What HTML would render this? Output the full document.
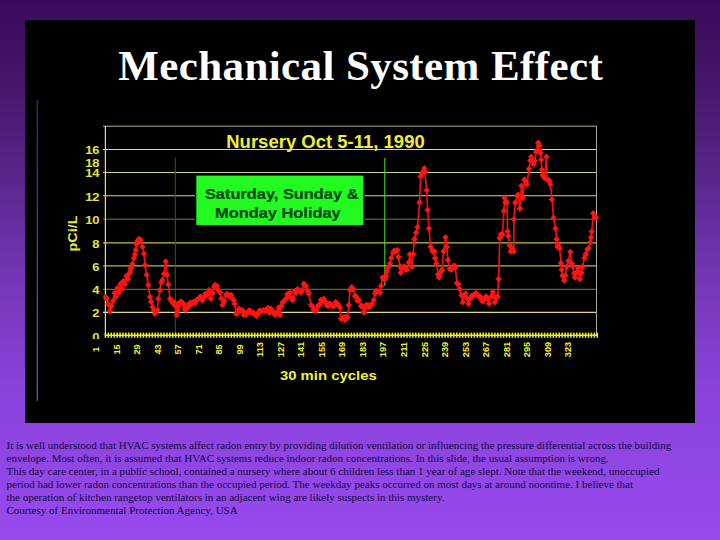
<!DOCTYPE html>
<html><head><meta charset="utf-8"><title>Mechanical System Effect</title>
<style>
html,body{margin:0;padding:0}
body{width:720px;height:540px;overflow:hidden;position:relative;background:linear-gradient(to bottom,rgb(58,10,90) 0px,rgb(72,24,110) 94px,rgb(92,40,144) 189px,rgb(120,56,186) 290px,rgb(138,66,218) 389px,rgb(150,74,236) 529px,rgb(151,75,237) 540px);font-family:"Liberation Serif",serif}
#slide{position:absolute;left:25px;top:20px;width:670px;height:402.5px;background:#000}
h1{position:absolute;left:0.7px;top:40.5px;width:720px;margin:0;text-align:center;font:bold 43px/50px "Liberation Serif",serif;color:#fff;letter-spacing:0.4px;white-space:nowrap}
#notes{position:absolute;left:6.5px;top:439.3px;width:710px;font:11.03px/13px "Liberation Serif",serif;color:#14063e;white-space:nowrap}
#notes div{height:13px}
svg{position:absolute;left:0;top:0}
svg text{font-family:"Liberation Sans",sans-serif}
</style></head><body>
<div id="slide"></div>
<svg width="720" height="540" viewBox="0 0 720 540">
<defs><linearGradient id="vg" x1="0" y1="100" x2="0" y2="401" gradientUnits="userSpaceOnUse"><stop offset="0" stop-color="#4a2a8a"/><stop offset="1" stop-color="#8462c4"/></linearGradient></defs><rect x="36.7" y="100" width="1.1" height="300.8" fill="url(#vg)"/>
<line x1="103" y1="126.2" x2="596.8" y2="126.2" stroke="#b0b0a0" stroke-width="1"/><line x1="103" y1="149.5" x2="596.8" y2="149.5" stroke="#d8d890" stroke-width="1.1"/><line x1="103" y1="172.5" x2="596.8" y2="172.5" stroke="#d0d080" stroke-width="1.2"/><line x1="103" y1="195.8" x2="596.8" y2="195.8" stroke="#d8d880" stroke-width="1.1"/><line x1="103" y1="219.2" x2="596.8" y2="219.2" stroke="#84844e" stroke-width="0.9"/><line x1="103" y1="242.8" x2="596.8" y2="242.8" stroke="#c0c040" stroke-width="1.25"/><line x1="103" y1="265.8" x2="596.8" y2="265.8" stroke="#b8b840" stroke-width="1.2"/><line x1="103" y1="289.3" x2="596.8" y2="289.3" stroke="#8c8c48" stroke-width="0.9"/><line x1="103" y1="312.3" x2="596.8" y2="312.3" stroke="#dcdc90" stroke-width="1.3"/>
<line x1="105.4" y1="126" x2="105.4" y2="336" stroke="#e0e080" stroke-width="1.2"/>
<line x1="596.5" y1="126" x2="596.5" y2="336" stroke="#a8a8a0" stroke-width="1"/>
<line x1="175.3" y1="157.6" x2="175.3" y2="335" stroke="#2a602a" stroke-width="1"/>
<line x1="384.8" y1="158" x2="384.8" y2="286" stroke="#38dc38" stroke-width="1.1"/>
<line x1="105" y1="335.3" x2="597" y2="335.3" stroke="#e6e62a" stroke-width="1.6"/>
<line x1="105.40" y1="332.6" x2="105.40" y2="337.8" stroke="#f0f030" stroke-width="1.5"/><line x1="108.33" y1="332.6" x2="108.33" y2="337.8" stroke="#f0f030" stroke-width="1.5"/><line x1="111.26" y1="332.6" x2="111.26" y2="337.8" stroke="#f0f030" stroke-width="1.5"/><line x1="114.18" y1="332.6" x2="114.18" y2="337.8" stroke="#f0f030" stroke-width="1.5"/><line x1="117.11" y1="332.6" x2="117.11" y2="337.8" stroke="#f0f030" stroke-width="1.5"/><line x1="120.04" y1="332.6" x2="120.04" y2="337.8" stroke="#f0f030" stroke-width="1.5"/><line x1="122.97" y1="332.6" x2="122.97" y2="337.8" stroke="#f0f030" stroke-width="1.5"/><line x1="125.90" y1="332.6" x2="125.90" y2="337.8" stroke="#f0f030" stroke-width="1.5"/><line x1="128.82" y1="332.6" x2="128.82" y2="337.8" stroke="#f0f030" stroke-width="1.5"/><line x1="131.75" y1="332.6" x2="131.75" y2="337.8" stroke="#f0f030" stroke-width="1.5"/><line x1="134.68" y1="332.6" x2="134.68" y2="337.8" stroke="#f0f030" stroke-width="1.5"/><line x1="137.61" y1="332.6" x2="137.61" y2="337.8" stroke="#f0f030" stroke-width="1.5"/><line x1="140.54" y1="332.6" x2="140.54" y2="337.8" stroke="#f0f030" stroke-width="1.5"/><line x1="143.46" y1="332.6" x2="143.46" y2="337.8" stroke="#f0f030" stroke-width="1.5"/><line x1="146.39" y1="332.6" x2="146.39" y2="337.8" stroke="#f0f030" stroke-width="1.5"/><line x1="149.32" y1="332.6" x2="149.32" y2="337.8" stroke="#f0f030" stroke-width="1.5"/><line x1="152.25" y1="332.6" x2="152.25" y2="337.8" stroke="#f0f030" stroke-width="1.5"/><line x1="155.18" y1="332.6" x2="155.18" y2="337.8" stroke="#f0f030" stroke-width="1.5"/><line x1="158.10" y1="332.6" x2="158.10" y2="337.8" stroke="#f0f030" stroke-width="1.5"/><line x1="161.03" y1="332.6" x2="161.03" y2="337.8" stroke="#f0f030" stroke-width="1.5"/><line x1="163.96" y1="332.6" x2="163.96" y2="337.8" stroke="#f0f030" stroke-width="1.5"/><line x1="166.89" y1="332.6" x2="166.89" y2="337.8" stroke="#f0f030" stroke-width="1.5"/><line x1="169.82" y1="332.6" x2="169.82" y2="337.8" stroke="#f0f030" stroke-width="1.5"/><line x1="172.74" y1="332.6" x2="172.74" y2="337.8" stroke="#f0f030" stroke-width="1.5"/><line x1="175.67" y1="332.6" x2="175.67" y2="337.8" stroke="#f0f030" stroke-width="1.5"/><line x1="178.60" y1="332.6" x2="178.60" y2="337.8" stroke="#f0f030" stroke-width="1.5"/><line x1="181.53" y1="332.6" x2="181.53" y2="337.8" stroke="#f0f030" stroke-width="1.5"/><line x1="184.46" y1="332.6" x2="184.46" y2="337.8" stroke="#f0f030" stroke-width="1.5"/><line x1="187.38" y1="332.6" x2="187.38" y2="337.8" stroke="#f0f030" stroke-width="1.5"/><line x1="190.31" y1="332.6" x2="190.31" y2="337.8" stroke="#f0f030" stroke-width="1.5"/><line x1="193.24" y1="332.6" x2="193.24" y2="337.8" stroke="#f0f030" stroke-width="1.5"/><line x1="196.17" y1="332.6" x2="196.17" y2="337.8" stroke="#f0f030" stroke-width="1.5"/><line x1="199.10" y1="332.6" x2="199.10" y2="337.8" stroke="#f0f030" stroke-width="1.5"/><line x1="202.02" y1="332.6" x2="202.02" y2="337.8" stroke="#f0f030" stroke-width="1.5"/><line x1="204.95" y1="332.6" x2="204.95" y2="337.8" stroke="#f0f030" stroke-width="1.5"/><line x1="207.88" y1="332.6" x2="207.88" y2="337.8" stroke="#f0f030" stroke-width="1.5"/><line x1="210.81" y1="332.6" x2="210.81" y2="337.8" stroke="#f0f030" stroke-width="1.5"/><line x1="213.74" y1="332.6" x2="213.74" y2="337.8" stroke="#f0f030" stroke-width="1.5"/><line x1="216.66" y1="332.6" x2="216.66" y2="337.8" stroke="#f0f030" stroke-width="1.5"/><line x1="219.59" y1="332.6" x2="219.59" y2="337.8" stroke="#f0f030" stroke-width="1.5"/><line x1="222.52" y1="332.6" x2="222.52" y2="337.8" stroke="#f0f030" stroke-width="1.5"/><line x1="225.45" y1="332.6" x2="225.45" y2="337.8" stroke="#f0f030" stroke-width="1.5"/><line x1="228.38" y1="332.6" x2="228.38" y2="337.8" stroke="#f0f030" stroke-width="1.5"/><line x1="231.30" y1="332.6" x2="231.30" y2="337.8" stroke="#f0f030" stroke-width="1.5"/><line x1="234.23" y1="332.6" x2="234.23" y2="337.8" stroke="#f0f030" stroke-width="1.5"/><line x1="237.16" y1="332.6" x2="237.16" y2="337.8" stroke="#f0f030" stroke-width="1.5"/><line x1="240.09" y1="332.6" x2="240.09" y2="337.8" stroke="#f0f030" stroke-width="1.5"/><line x1="243.02" y1="332.6" x2="243.02" y2="337.8" stroke="#f0f030" stroke-width="1.5"/><line x1="245.94" y1="332.6" x2="245.94" y2="337.8" stroke="#f0f030" stroke-width="1.5"/><line x1="248.87" y1="332.6" x2="248.87" y2="337.8" stroke="#f0f030" stroke-width="1.5"/><line x1="251.80" y1="332.6" x2="251.80" y2="337.8" stroke="#f0f030" stroke-width="1.5"/><line x1="254.73" y1="332.6" x2="254.73" y2="337.8" stroke="#f0f030" stroke-width="1.5"/><line x1="257.66" y1="332.6" x2="257.66" y2="337.8" stroke="#f0f030" stroke-width="1.5"/><line x1="260.58" y1="332.6" x2="260.58" y2="337.8" stroke="#f0f030" stroke-width="1.5"/><line x1="263.51" y1="332.6" x2="263.51" y2="337.8" stroke="#f0f030" stroke-width="1.5"/><line x1="266.44" y1="332.6" x2="266.44" y2="337.8" stroke="#f0f030" stroke-width="1.5"/><line x1="269.37" y1="332.6" x2="269.37" y2="337.8" stroke="#f0f030" stroke-width="1.5"/><line x1="272.30" y1="332.6" x2="272.30" y2="337.8" stroke="#f0f030" stroke-width="1.5"/><line x1="275.22" y1="332.6" x2="275.22" y2="337.8" stroke="#f0f030" stroke-width="1.5"/><line x1="278.15" y1="332.6" x2="278.15" y2="337.8" stroke="#f0f030" stroke-width="1.5"/><line x1="281.08" y1="332.6" x2="281.08" y2="337.8" stroke="#f0f030" stroke-width="1.5"/><line x1="284.01" y1="332.6" x2="284.01" y2="337.8" stroke="#f0f030" stroke-width="1.5"/><line x1="286.94" y1="332.6" x2="286.94" y2="337.8" stroke="#f0f030" stroke-width="1.5"/><line x1="289.86" y1="332.6" x2="289.86" y2="337.8" stroke="#f0f030" stroke-width="1.5"/><line x1="292.79" y1="332.6" x2="292.79" y2="337.8" stroke="#f0f030" stroke-width="1.5"/><line x1="295.72" y1="332.6" x2="295.72" y2="337.8" stroke="#f0f030" stroke-width="1.5"/><line x1="298.65" y1="332.6" x2="298.65" y2="337.8" stroke="#f0f030" stroke-width="1.5"/><line x1="301.58" y1="332.6" x2="301.58" y2="337.8" stroke="#f0f030" stroke-width="1.5"/><line x1="304.50" y1="332.6" x2="304.50" y2="337.8" stroke="#f0f030" stroke-width="1.5"/><line x1="307.43" y1="332.6" x2="307.43" y2="337.8" stroke="#f0f030" stroke-width="1.5"/><line x1="310.36" y1="332.6" x2="310.36" y2="337.8" stroke="#f0f030" stroke-width="1.5"/><line x1="313.29" y1="332.6" x2="313.29" y2="337.8" stroke="#f0f030" stroke-width="1.5"/><line x1="316.22" y1="332.6" x2="316.22" y2="337.8" stroke="#f0f030" stroke-width="1.5"/><line x1="319.14" y1="332.6" x2="319.14" y2="337.8" stroke="#f0f030" stroke-width="1.5"/><line x1="322.07" y1="332.6" x2="322.07" y2="337.8" stroke="#f0f030" stroke-width="1.5"/><line x1="325.00" y1="332.6" x2="325.00" y2="337.8" stroke="#f0f030" stroke-width="1.5"/><line x1="327.93" y1="332.6" x2="327.93" y2="337.8" stroke="#f0f030" stroke-width="1.5"/><line x1="330.86" y1="332.6" x2="330.86" y2="337.8" stroke="#f0f030" stroke-width="1.5"/><line x1="333.78" y1="332.6" x2="333.78" y2="337.8" stroke="#f0f030" stroke-width="1.5"/><line x1="336.71" y1="332.6" x2="336.71" y2="337.8" stroke="#f0f030" stroke-width="1.5"/><line x1="339.64" y1="332.6" x2="339.64" y2="337.8" stroke="#f0f030" stroke-width="1.5"/><line x1="342.57" y1="332.6" x2="342.57" y2="337.8" stroke="#f0f030" stroke-width="1.5"/><line x1="345.50" y1="332.6" x2="345.50" y2="337.8" stroke="#f0f030" stroke-width="1.5"/><line x1="348.42" y1="332.6" x2="348.42" y2="337.8" stroke="#f0f030" stroke-width="1.5"/><line x1="351.35" y1="332.6" x2="351.35" y2="337.8" stroke="#f0f030" stroke-width="1.5"/><line x1="354.28" y1="332.6" x2="354.28" y2="337.8" stroke="#f0f030" stroke-width="1.5"/><line x1="357.21" y1="332.6" x2="357.21" y2="337.8" stroke="#f0f030" stroke-width="1.5"/><line x1="360.14" y1="332.6" x2="360.14" y2="337.8" stroke="#f0f030" stroke-width="1.5"/><line x1="363.06" y1="332.6" x2="363.06" y2="337.8" stroke="#f0f030" stroke-width="1.5"/><line x1="365.99" y1="332.6" x2="365.99" y2="337.8" stroke="#f0f030" stroke-width="1.5"/><line x1="368.92" y1="332.6" x2="368.92" y2="337.8" stroke="#f0f030" stroke-width="1.5"/><line x1="371.85" y1="332.6" x2="371.85" y2="337.8" stroke="#f0f030" stroke-width="1.5"/><line x1="374.78" y1="332.6" x2="374.78" y2="337.8" stroke="#f0f030" stroke-width="1.5"/><line x1="377.70" y1="332.6" x2="377.70" y2="337.8" stroke="#f0f030" stroke-width="1.5"/><line x1="380.63" y1="332.6" x2="380.63" y2="337.8" stroke="#f0f030" stroke-width="1.5"/><line x1="383.56" y1="332.6" x2="383.56" y2="337.8" stroke="#f0f030" stroke-width="1.5"/><line x1="386.49" y1="332.6" x2="386.49" y2="337.8" stroke="#f0f030" stroke-width="1.5"/><line x1="389.42" y1="332.6" x2="389.42" y2="337.8" stroke="#f0f030" stroke-width="1.5"/><line x1="392.34" y1="332.6" x2="392.34" y2="337.8" stroke="#f0f030" stroke-width="1.5"/><line x1="395.27" y1="332.6" x2="395.27" y2="337.8" stroke="#f0f030" stroke-width="1.5"/><line x1="398.20" y1="332.6" x2="398.20" y2="337.8" stroke="#f0f030" stroke-width="1.5"/><line x1="401.13" y1="332.6" x2="401.13" y2="337.8" stroke="#f0f030" stroke-width="1.5"/><line x1="404.06" y1="332.6" x2="404.06" y2="337.8" stroke="#f0f030" stroke-width="1.5"/><line x1="406.98" y1="332.6" x2="406.98" y2="337.8" stroke="#f0f030" stroke-width="1.5"/><line x1="409.91" y1="332.6" x2="409.91" y2="337.8" stroke="#f0f030" stroke-width="1.5"/><line x1="412.84" y1="332.6" x2="412.84" y2="337.8" stroke="#f0f030" stroke-width="1.5"/><line x1="415.77" y1="332.6" x2="415.77" y2="337.8" stroke="#f0f030" stroke-width="1.5"/><line x1="418.70" y1="332.6" x2="418.70" y2="337.8" stroke="#f0f030" stroke-width="1.5"/><line x1="421.62" y1="332.6" x2="421.62" y2="337.8" stroke="#f0f030" stroke-width="1.5"/><line x1="424.55" y1="332.6" x2="424.55" y2="337.8" stroke="#f0f030" stroke-width="1.5"/><line x1="427.48" y1="332.6" x2="427.48" y2="337.8" stroke="#f0f030" stroke-width="1.5"/><line x1="430.41" y1="332.6" x2="430.41" y2="337.8" stroke="#f0f030" stroke-width="1.5"/><line x1="433.34" y1="332.6" x2="433.34" y2="337.8" stroke="#f0f030" stroke-width="1.5"/><line x1="436.26" y1="332.6" x2="436.26" y2="337.8" stroke="#f0f030" stroke-width="1.5"/><line x1="439.19" y1="332.6" x2="439.19" y2="337.8" stroke="#f0f030" stroke-width="1.5"/><line x1="442.12" y1="332.6" x2="442.12" y2="337.8" stroke="#f0f030" stroke-width="1.5"/><line x1="445.05" y1="332.6" x2="445.05" y2="337.8" stroke="#f0f030" stroke-width="1.5"/><line x1="447.98" y1="332.6" x2="447.98" y2="337.8" stroke="#f0f030" stroke-width="1.5"/><line x1="450.90" y1="332.6" x2="450.90" y2="337.8" stroke="#f0f030" stroke-width="1.5"/><line x1="453.83" y1="332.6" x2="453.83" y2="337.8" stroke="#f0f030" stroke-width="1.5"/><line x1="456.76" y1="332.6" x2="456.76" y2="337.8" stroke="#f0f030" stroke-width="1.5"/><line x1="459.69" y1="332.6" x2="459.69" y2="337.8" stroke="#f0f030" stroke-width="1.5"/><line x1="462.62" y1="332.6" x2="462.62" y2="337.8" stroke="#f0f030" stroke-width="1.5"/><line x1="465.54" y1="332.6" x2="465.54" y2="337.8" stroke="#f0f030" stroke-width="1.5"/><line x1="468.47" y1="332.6" x2="468.47" y2="337.8" stroke="#f0f030" stroke-width="1.5"/><line x1="471.40" y1="332.6" x2="471.40" y2="337.8" stroke="#f0f030" stroke-width="1.5"/><line x1="474.33" y1="332.6" x2="474.33" y2="337.8" stroke="#f0f030" stroke-width="1.5"/><line x1="477.26" y1="332.6" x2="477.26" y2="337.8" stroke="#f0f030" stroke-width="1.5"/><line x1="480.18" y1="332.6" x2="480.18" y2="337.8" stroke="#f0f030" stroke-width="1.5"/><line x1="483.11" y1="332.6" x2="483.11" y2="337.8" stroke="#f0f030" stroke-width="1.5"/><line x1="486.04" y1="332.6" x2="486.04" y2="337.8" stroke="#f0f030" stroke-width="1.5"/><line x1="488.97" y1="332.6" x2="488.97" y2="337.8" stroke="#f0f030" stroke-width="1.5"/><line x1="491.90" y1="332.6" x2="491.90" y2="337.8" stroke="#f0f030" stroke-width="1.5"/><line x1="494.82" y1="332.6" x2="494.82" y2="337.8" stroke="#f0f030" stroke-width="1.5"/><line x1="497.75" y1="332.6" x2="497.75" y2="337.8" stroke="#f0f030" stroke-width="1.5"/><line x1="500.68" y1="332.6" x2="500.68" y2="337.8" stroke="#f0f030" stroke-width="1.5"/><line x1="503.61" y1="332.6" x2="503.61" y2="337.8" stroke="#f0f030" stroke-width="1.5"/><line x1="506.54" y1="332.6" x2="506.54" y2="337.8" stroke="#f0f030" stroke-width="1.5"/><line x1="509.46" y1="332.6" x2="509.46" y2="337.8" stroke="#f0f030" stroke-width="1.5"/><line x1="512.39" y1="332.6" x2="512.39" y2="337.8" stroke="#f0f030" stroke-width="1.5"/><line x1="515.32" y1="332.6" x2="515.32" y2="337.8" stroke="#f0f030" stroke-width="1.5"/><line x1="518.25" y1="332.6" x2="518.25" y2="337.8" stroke="#f0f030" stroke-width="1.5"/><line x1="521.18" y1="332.6" x2="521.18" y2="337.8" stroke="#f0f030" stroke-width="1.5"/><line x1="524.10" y1="332.6" x2="524.10" y2="337.8" stroke="#f0f030" stroke-width="1.5"/><line x1="527.03" y1="332.6" x2="527.03" y2="337.8" stroke="#f0f030" stroke-width="1.5"/><line x1="529.96" y1="332.6" x2="529.96" y2="337.8" stroke="#f0f030" stroke-width="1.5"/><line x1="532.89" y1="332.6" x2="532.89" y2="337.8" stroke="#f0f030" stroke-width="1.5"/><line x1="535.82" y1="332.6" x2="535.82" y2="337.8" stroke="#f0f030" stroke-width="1.5"/><line x1="538.74" y1="332.6" x2="538.74" y2="337.8" stroke="#f0f030" stroke-width="1.5"/><line x1="541.67" y1="332.6" x2="541.67" y2="337.8" stroke="#f0f030" stroke-width="1.5"/><line x1="544.60" y1="332.6" x2="544.60" y2="337.8" stroke="#f0f030" stroke-width="1.5"/><line x1="547.53" y1="332.6" x2="547.53" y2="337.8" stroke="#f0f030" stroke-width="1.5"/><line x1="550.46" y1="332.6" x2="550.46" y2="337.8" stroke="#f0f030" stroke-width="1.5"/><line x1="553.38" y1="332.6" x2="553.38" y2="337.8" stroke="#f0f030" stroke-width="1.5"/><line x1="556.31" y1="332.6" x2="556.31" y2="337.8" stroke="#f0f030" stroke-width="1.5"/><line x1="559.24" y1="332.6" x2="559.24" y2="337.8" stroke="#f0f030" stroke-width="1.5"/><line x1="562.17" y1="332.6" x2="562.17" y2="337.8" stroke="#f0f030" stroke-width="1.5"/><line x1="565.10" y1="332.6" x2="565.10" y2="337.8" stroke="#f0f030" stroke-width="1.5"/><line x1="568.02" y1="332.6" x2="568.02" y2="337.8" stroke="#f0f030" stroke-width="1.5"/><line x1="570.95" y1="332.6" x2="570.95" y2="337.8" stroke="#f0f030" stroke-width="1.5"/><line x1="573.88" y1="332.6" x2="573.88" y2="337.8" stroke="#f0f030" stroke-width="1.5"/><line x1="576.81" y1="332.6" x2="576.81" y2="337.8" stroke="#f0f030" stroke-width="1.5"/><line x1="579.74" y1="332.6" x2="579.74" y2="337.8" stroke="#f0f030" stroke-width="1.5"/><line x1="582.66" y1="332.6" x2="582.66" y2="337.8" stroke="#f0f030" stroke-width="1.5"/><line x1="585.59" y1="332.6" x2="585.59" y2="337.8" stroke="#f0f030" stroke-width="1.5"/><line x1="588.52" y1="332.6" x2="588.52" y2="337.8" stroke="#f0f030" stroke-width="1.5"/><line x1="591.45" y1="332.6" x2="591.45" y2="337.8" stroke="#f0f030" stroke-width="1.5"/><line x1="594.38" y1="332.6" x2="594.38" y2="337.8" stroke="#f0f030" stroke-width="1.5"/><line x1="597.30" y1="332.6" x2="597.30" y2="337.8" stroke="#f0f030" stroke-width="1.5"/>
<rect x="195" y="174.3" width="169.5" height="52" fill="#000"/>
<rect x="196.3" y="175.6" width="167" height="49.4" fill="#22fa22"/>
<text transform="translate(281.7,198.8) scale(1.065,1)" text-anchor="middle" font-size="15.4" font-weight="bold" fill="#084814" stroke="#084814" stroke-width="0.25">Saturday, Sunday &amp;</text>
<text transform="translate(277.9,217.9) scale(1.065,1)" text-anchor="middle" font-size="15.4" font-weight="bold" fill="#084814" stroke="#084814" stroke-width="0.25">Monday Holiday</text>
<text x="325.5" y="147.6" text-anchor="middle" font-size="18.5" font-weight="bold" fill="#f0f030">Nursery Oct 5-11, 1990</text>
<text transform="translate(328.3,379.7) scale(1.12,1)" text-anchor="middle" font-size="13.3" font-weight="bold" fill="#f0f040">30 min cycles</text>
<text transform="translate(77.3,233.5) rotate(-90) scale(1.17,1)" text-anchor="middle" font-size="12.3" font-weight="bold" fill="#e8e848">pCi/L</text>
<text transform="translate(99.6,154.4) scale(1.1,1)" text-anchor="end" font-size="11.8" font-weight="bold" fill="#e4e44c">16</text><text transform="translate(99.6,200.7) scale(1.1,1)" text-anchor="end" font-size="11.8" font-weight="bold" fill="#e4e44c">12</text><text transform="translate(99.6,224.1) scale(1.1,1)" text-anchor="end" font-size="11.8" font-weight="bold" fill="#e4e44c">10</text><text transform="translate(99.6,247.7) scale(1.1,1)" text-anchor="end" font-size="11.8" font-weight="bold" fill="#e4e44c">8</text><text transform="translate(99.6,270.7) scale(1.1,1)" text-anchor="end" font-size="11.8" font-weight="bold" fill="#e4e44c">6</text><text transform="translate(99.6,294.2) scale(1.1,1)" text-anchor="end" font-size="11.8" font-weight="bold" fill="#e4e44c">4</text><text transform="translate(99.6,317.2) scale(1.1,1)" text-anchor="end" font-size="11.8" font-weight="bold" fill="#e4e44c">2</text><text transform="translate(99.6,167.3) scale(1.1,1)" text-anchor="end" font-size="11.8" font-weight="bold" fill="#e4e44c">18</text><text transform="translate(99.6,177.0) scale(1.1,1)" text-anchor="end" font-size="11.8" font-weight="bold" fill="#e4e44c">14</text><clipPath id="c0"><rect x="80" y="325" width="25" height="13.9"/></clipPath><g clip-path="url(#c0)"><text transform="translate(99.6,341.4) scale(1.1,1)" text-anchor="end" font-size="11.8" font-weight="bold" fill="#e4e44c">0</text></g>
<text transform="translate(99.3,349.5) rotate(-90)" text-anchor="middle" font-size="9.2" font-weight="bold" fill="#f2f23c">1</text><text transform="translate(119.8,349.5) rotate(-90)" text-anchor="middle" font-size="9.2" font-weight="bold" fill="#f2f23c">15</text><text transform="translate(140.3,349.5) rotate(-90)" text-anchor="middle" font-size="9.2" font-weight="bold" fill="#f2f23c">29</text><text transform="translate(160.8,349.5) rotate(-90)" text-anchor="middle" font-size="9.2" font-weight="bold" fill="#f2f23c">43</text><text transform="translate(181.3,349.5) rotate(-90)" text-anchor="middle" font-size="9.2" font-weight="bold" fill="#f2f23c">57</text><text transform="translate(201.8,349.5) rotate(-90)" text-anchor="middle" font-size="9.2" font-weight="bold" fill="#f2f23c">71</text><text transform="translate(222.4,349.5) rotate(-90)" text-anchor="middle" font-size="9.2" font-weight="bold" fill="#f2f23c">85</text><text transform="translate(242.9,349.5) rotate(-90)" text-anchor="middle" font-size="9.2" font-weight="bold" fill="#f2f23c">99</text><text transform="translate(263.4,349.5) rotate(-90)" text-anchor="middle" font-size="9.2" font-weight="bold" fill="#f2f23c">113</text><text transform="translate(283.9,349.5) rotate(-90)" text-anchor="middle" font-size="9.2" font-weight="bold" fill="#f2f23c">127</text><text transform="translate(304.4,349.5) rotate(-90)" text-anchor="middle" font-size="9.2" font-weight="bold" fill="#f2f23c">141</text><text transform="translate(324.9,349.5) rotate(-90)" text-anchor="middle" font-size="9.2" font-weight="bold" fill="#f2f23c">155</text><text transform="translate(345.4,349.5) rotate(-90)" text-anchor="middle" font-size="9.2" font-weight="bold" fill="#f2f23c">169</text><text transform="translate(365.9,349.5) rotate(-90)" text-anchor="middle" font-size="9.2" font-weight="bold" fill="#f2f23c">183</text><text transform="translate(386.4,349.5) rotate(-90)" text-anchor="middle" font-size="9.2" font-weight="bold" fill="#f2f23c">197</text><text transform="translate(406.9,349.5) rotate(-90)" text-anchor="middle" font-size="9.2" font-weight="bold" fill="#f2f23c">211</text><text transform="translate(427.5,349.5) rotate(-90)" text-anchor="middle" font-size="9.2" font-weight="bold" fill="#f2f23c">225</text><text transform="translate(448.0,349.5) rotate(-90)" text-anchor="middle" font-size="9.2" font-weight="bold" fill="#f2f23c">239</text><text transform="translate(468.5,349.5) rotate(-90)" text-anchor="middle" font-size="9.2" font-weight="bold" fill="#f2f23c">253</text><text transform="translate(489.0,349.5) rotate(-90)" text-anchor="middle" font-size="9.2" font-weight="bold" fill="#f2f23c">267</text><text transform="translate(509.5,349.5) rotate(-90)" text-anchor="middle" font-size="9.2" font-weight="bold" fill="#f2f23c">281</text><text transform="translate(530.0,349.5) rotate(-90)" text-anchor="middle" font-size="9.2" font-weight="bold" fill="#f2f23c">295</text><text transform="translate(550.5,349.5) rotate(-90)" text-anchor="middle" font-size="9.2" font-weight="bold" fill="#f2f23c">309</text><text transform="translate(571.0,349.5) rotate(-90)" text-anchor="middle" font-size="9.2" font-weight="bold" fill="#f2f23c">323</text>
<polyline points="105.8,297.5 106.7,298.7 108.3,304.0 110.0,311.0 111.5,306.0 113.0,301.0 114.5,293.0 115.8,297.0 117.5,288.0 119.0,293.0 120.5,284.0 122.0,289.0 123.5,281.0 125.0,284.0 126.5,276.0 128.0,279.0 129.2,274.0 130.0,272.0 130.6,268.5 131.5,268.0 132.5,264.0 134.0,258.0 135.0,254.3 135.8,250.0 136.5,244.1 137.5,241.0 139.0,239.0 140.8,240.0 142.5,247.0 144.0,253.7 145.0,265.0 146.7,275.0 148.3,285.0 150.0,297.0 151.1,301.7 152.5,307.0 154.0,310.4 155.0,313.7 157.5,310.0 158.3,298.7 160.0,290.0 161.4,282.2 162.5,280.0 164.0,273.7 165.8,261.5 167.0,275.0 168.3,284.5 170.0,298.7 171.6,301.2 173.3,303.7 174.5,302.5 175.5,306.0 176.7,315.0 177.5,310.8 178.3,307.0 178.9,303.7 180.4,301.7 181.7,302.0 183.3,303.7 184.0,305.0 184.8,309.0 185.8,310.0 188.0,307.0 189.2,303.8 190.0,305.0 190.6,302.9 192.1,303.8 193.3,302.0 195.0,303.3 196.5,300.0 198.0,299.2 200.0,297.0 200.9,296.7 202.4,300.2 203.5,298.0 205.3,293.9 206.7,295.0 208.2,293.6 209.0,290.0 209.7,292.1 210.8,298.7 213.0,293.0 214.1,286.8 215.0,285.0 217.0,286.0 218.3,290.0 220.0,292.5 221.4,298.4 222.5,305.0 224.3,301.5 226.0,295.0 227.2,293.7 229.0,296.0 230.2,295.9 231.2,295.0 233.1,299.5 233.8,300.0 234.6,303.8 236.2,313.8 237.5,312.8 239.0,308.7 240.0,310.0 241.9,310.1 243.8,315.0 244.8,312.7 246.3,314.4 247.7,312.1 249.2,310.5 250.0,311.0 250.7,312.0 252.1,312.5 253.6,312.8 255.0,315.0 256.5,315.6 258.0,314.1 259.5,310.7 261.0,311.0 262.4,310.9 263.8,310.2 265.3,311.5 266.8,310.2 267.5,308.8 268.2,308.0 269.7,312.7 271.2,308.9 272.6,311.4 273.8,312.5 275.0,315.0 277.0,312.3 278.8,307.5 280.0,315.0 281.4,306.1 282.5,302.5 284.3,300.5 286.0,298.8 287.3,294.3 288.7,295.4 290.0,292.5 291.7,298.9 292.5,300.0 293.1,298.1 295.0,291.0 296.1,292.7 297.5,289.3 298.8,290.0 301.0,292.5 301.9,290.7 303.8,283.8 304.8,285.3 306.0,286.0 307.8,291.4 308.8,293.8 311.0,305.0 312.2,306.2 313.6,310.1 315.0,310.0 316.5,310.3 318.0,305.8 318.8,305.0 319.5,305.0 320.9,299.9 322.4,301.5 323.8,298.8 325.3,301.7 326.8,305.5 327.5,303.8 328.3,305.8 329.7,303.6 331.2,304.8 332.5,306.0 334.1,306.2 335.6,302.0 337.5,303.8 338.5,305.1 340.0,307.5 341.0,318.8 342.9,317.6 344.4,317.7 345.0,320.0 345.8,316.8 347.5,317.5 348.8,305.1 350.0,290.0 351.7,287.2 352.5,288.8 353.1,289.3 355.0,296.0 356.1,296.6 357.5,300.7 358.8,300.0 361.0,306.0 361.9,305.9 363.8,312.5 364.9,308.5 366.0,305.0 367.8,305.3 369.3,307.1 370.0,305.0 370.7,305.8 372.2,304.1 373.8,300.0 375.1,293.4 376.0,291.0 378.0,291.3 380.0,292.5 381.0,286.0 382.5,277.5 383.9,279.0 385.4,278.7 386.0,276.0 386.8,271.6 388.3,267.2 390.0,263.6 391.2,257.9 393.0,253.0 394.1,250.8 395.6,251.2 397.6,250.0 398.5,257.3 400.0,266.3 400.7,272.8 401.5,268.6 402.9,267.9 403.8,266.7 404.4,266.6 405.9,269.1 406.8,269.7 408.8,262.4 409.9,254.4 412.0,266.7 413.2,254.3 414.4,239.2 416.1,232.6 417.5,227.0 419.6,202.5 420.6,176.5 422.0,174.0 423.4,171.0 424.2,168.3 424.9,171.9 426.7,190.3 427.6,210.0 429.0,228.5 430.6,246.8 432.2,251.0 433.7,252.1 434.3,251.4 435.1,258.3 436.4,263.6 438.1,274.4 438.9,277.4 439.5,275.3 441.0,271.7 442.0,269.7 443.5,251.4 445.6,237.2 446.8,246.9 448.0,260.0 449.6,268.7 451.2,269.5 452.5,268.8 454.2,265.6 455.4,267.3 456.9,283.3 458.6,284.3 459.8,289.2 461.5,295.2 462.7,302.3 464.4,295.3 465.6,293.5 467.3,298.8 468.5,303.8 470.3,298.4 471.7,295.7 472.9,296.5 474.7,294.0 476.1,293.2 477.3,295.0 479.1,296.6 480.5,296.7 481.7,300.8 483.4,301.1 484.9,298.2 486.0,296.5 487.8,299.0 489.0,303.8 490.8,296.9 492.8,292.0 493.7,295.9 494.8,302.3 496.6,297.9 497.7,296.5 498.6,279.0 499.8,238.0 501.0,234.3 502.4,234.6 503.9,210.9 504.6,198.0 505.4,202.2 507.0,202.5 507.6,231.5 508.3,236.0 509.8,245.5 510.7,251.4 512.7,249.2 513.8,251.4 513.8,219.3 515.3,202.5 517.1,195.8 518.3,194.9 519.9,208.6 521.4,185.7 522.9,197.9 524.4,179.6 525.9,181.5 526.9,184.2 529.0,168.9 530.3,160.5 531.2,156.7 533.6,164.3 534.7,160.5 536.0,152.0 538.2,142.9 539.1,145.5 539.7,150.5 540.5,152.9 541.2,159.7 542.0,169.6 542.8,175.0 543.5,176.3 544.5,178.0 546.4,156.7 547.4,179.6 549.3,180.6 550.4,184.2 552.0,199.4 553.5,217.8 555.6,228.5 556.6,239.3 557.4,246.8 558.1,244.7 559.6,248.3 561.0,263.1 561.7,269.7 562.5,275.7 564.2,280.4 565.4,275.4 566.6,266.7 568.4,260.8 570.3,252.0 571.8,263.6 572.7,266.5 574.2,273.6 574.9,277.4 575.7,273.2 577.1,272.0 577.9,268.2 578.6,272.0 580.0,278.9 581.5,272.9 582.5,266.7 584.5,258.0 585.6,254.4 587.4,249.3 588.6,248.3 590.3,242.3 591.0,237.6 591.8,231.6 593.2,213.2 594.7,217.4 596.2,217.8" fill="none" stroke="#f81010" stroke-width="1.6" stroke-linejoin="round"/>
<g fill="#ff1414"><path d="M105.8,294.2l3.2,3.3l-3.2,3.3l-3.2,-3.3z"/><path d="M106.7,295.4l3.2,3.3l-3.2,3.3l-3.2,-3.3z"/><path d="M108.3,300.7l3.2,3.3l-3.2,3.3l-3.2,-3.3z"/><path d="M110.0,307.7l3.2,3.3l-3.2,3.3l-3.2,-3.3z"/><path d="M111.5,302.7l3.2,3.3l-3.2,3.3l-3.2,-3.3z"/><path d="M113.0,297.7l3.2,3.3l-3.2,3.3l-3.2,-3.3z"/><path d="M114.5,289.7l3.2,3.3l-3.2,3.3l-3.2,-3.3z"/><path d="M115.8,293.7l3.2,3.3l-3.2,3.3l-3.2,-3.3z"/><path d="M117.5,284.7l3.2,3.3l-3.2,3.3l-3.2,-3.3z"/><path d="M119.0,289.7l3.2,3.3l-3.2,3.3l-3.2,-3.3z"/><path d="M120.5,280.7l3.2,3.3l-3.2,3.3l-3.2,-3.3z"/><path d="M122.0,285.7l3.2,3.3l-3.2,3.3l-3.2,-3.3z"/><path d="M123.5,277.7l3.2,3.3l-3.2,3.3l-3.2,-3.3z"/><path d="M125.0,280.7l3.2,3.3l-3.2,3.3l-3.2,-3.3z"/><path d="M126.5,272.7l3.2,3.3l-3.2,3.3l-3.2,-3.3z"/><path d="M128.0,275.7l3.2,3.3l-3.2,3.3l-3.2,-3.3z"/><path d="M129.2,270.7l3.2,3.3l-3.2,3.3l-3.2,-3.3z"/><path d="M130.0,268.7l3.2,3.3l-3.2,3.3l-3.2,-3.3z"/><path d="M130.6,265.2l3.2,3.3l-3.2,3.3l-3.2,-3.3z"/><path d="M131.5,264.7l3.2,3.3l-3.2,3.3l-3.2,-3.3z"/><path d="M132.5,260.7l3.2,3.3l-3.2,3.3l-3.2,-3.3z"/><path d="M134.0,254.7l3.2,3.3l-3.2,3.3l-3.2,-3.3z"/><path d="M135.0,251.0l3.2,3.3l-3.2,3.3l-3.2,-3.3z"/><path d="M135.8,246.7l3.2,3.3l-3.2,3.3l-3.2,-3.3z"/><path d="M136.5,240.8l3.2,3.3l-3.2,3.3l-3.2,-3.3z"/><path d="M137.5,237.7l3.2,3.3l-3.2,3.3l-3.2,-3.3z"/><path d="M139.0,235.7l3.2,3.3l-3.2,3.3l-3.2,-3.3z"/><path d="M140.8,236.7l3.2,3.3l-3.2,3.3l-3.2,-3.3z"/><path d="M142.5,243.7l3.2,3.3l-3.2,3.3l-3.2,-3.3z"/><path d="M144.0,250.4l3.2,3.3l-3.2,3.3l-3.2,-3.3z"/><path d="M145.0,261.7l3.2,3.3l-3.2,3.3l-3.2,-3.3z"/><path d="M146.7,271.7l3.2,3.3l-3.2,3.3l-3.2,-3.3z"/><path d="M148.3,281.7l3.2,3.3l-3.2,3.3l-3.2,-3.3z"/><path d="M150.0,293.7l3.2,3.3l-3.2,3.3l-3.2,-3.3z"/><path d="M151.1,298.4l3.2,3.3l-3.2,3.3l-3.2,-3.3z"/><path d="M152.5,303.7l3.2,3.3l-3.2,3.3l-3.2,-3.3z"/><path d="M154.0,307.1l3.2,3.3l-3.2,3.3l-3.2,-3.3z"/><path d="M155.0,310.4l3.2,3.3l-3.2,3.3l-3.2,-3.3z"/><path d="M157.5,306.7l3.2,3.3l-3.2,3.3l-3.2,-3.3z"/><path d="M158.3,295.4l3.2,3.3l-3.2,3.3l-3.2,-3.3z"/><path d="M160.0,286.7l3.2,3.3l-3.2,3.3l-3.2,-3.3z"/><path d="M161.4,278.9l3.2,3.3l-3.2,3.3l-3.2,-3.3z"/><path d="M162.5,276.7l3.2,3.3l-3.2,3.3l-3.2,-3.3z"/><path d="M164.0,270.4l3.2,3.3l-3.2,3.3l-3.2,-3.3z"/><path d="M165.8,258.2l3.2,3.3l-3.2,3.3l-3.2,-3.3z"/><path d="M167.0,271.7l3.2,3.3l-3.2,3.3l-3.2,-3.3z"/><path d="M168.3,281.2l3.2,3.3l-3.2,3.3l-3.2,-3.3z"/><path d="M170.0,295.4l3.2,3.3l-3.2,3.3l-3.2,-3.3z"/><path d="M171.6,297.9l3.2,3.3l-3.2,3.3l-3.2,-3.3z"/><path d="M173.3,300.4l3.2,3.3l-3.2,3.3l-3.2,-3.3z"/><path d="M174.5,299.2l3.2,3.3l-3.2,3.3l-3.2,-3.3z"/><path d="M175.5,302.7l3.2,3.3l-3.2,3.3l-3.2,-3.3z"/><path d="M176.7,311.7l3.2,3.3l-3.2,3.3l-3.2,-3.3z"/><path d="M177.5,307.5l3.2,3.3l-3.2,3.3l-3.2,-3.3z"/><path d="M178.3,303.7l3.2,3.3l-3.2,3.3l-3.2,-3.3z"/><path d="M178.9,300.4l3.2,3.3l-3.2,3.3l-3.2,-3.3z"/><path d="M180.4,298.4l3.2,3.3l-3.2,3.3l-3.2,-3.3z"/><path d="M181.7,298.7l3.2,3.3l-3.2,3.3l-3.2,-3.3z"/><path d="M183.3,300.4l3.2,3.3l-3.2,3.3l-3.2,-3.3z"/><path d="M184.0,301.7l3.2,3.3l-3.2,3.3l-3.2,-3.3z"/><path d="M184.8,305.7l3.2,3.3l-3.2,3.3l-3.2,-3.3z"/><path d="M185.8,306.7l3.2,3.3l-3.2,3.3l-3.2,-3.3z"/><path d="M188.0,303.7l3.2,3.3l-3.2,3.3l-3.2,-3.3z"/><path d="M189.2,300.5l3.2,3.3l-3.2,3.3l-3.2,-3.3z"/><path d="M190.0,301.7l3.2,3.3l-3.2,3.3l-3.2,-3.3z"/><path d="M190.6,299.6l3.2,3.3l-3.2,3.3l-3.2,-3.3z"/><path d="M192.1,300.5l3.2,3.3l-3.2,3.3l-3.2,-3.3z"/><path d="M193.3,298.7l3.2,3.3l-3.2,3.3l-3.2,-3.3z"/><path d="M195.0,300.0l3.2,3.3l-3.2,3.3l-3.2,-3.3z"/><path d="M196.5,296.7l3.2,3.3l-3.2,3.3l-3.2,-3.3z"/><path d="M198.0,295.9l3.2,3.3l-3.2,3.3l-3.2,-3.3z"/><path d="M200.0,293.7l3.2,3.3l-3.2,3.3l-3.2,-3.3z"/><path d="M200.9,293.4l3.2,3.3l-3.2,3.3l-3.2,-3.3z"/><path d="M202.4,296.9l3.2,3.3l-3.2,3.3l-3.2,-3.3z"/><path d="M203.5,294.7l3.2,3.3l-3.2,3.3l-3.2,-3.3z"/><path d="M205.3,290.6l3.2,3.3l-3.2,3.3l-3.2,-3.3z"/><path d="M206.7,291.7l3.2,3.3l-3.2,3.3l-3.2,-3.3z"/><path d="M208.2,290.3l3.2,3.3l-3.2,3.3l-3.2,-3.3z"/><path d="M209.0,286.7l3.2,3.3l-3.2,3.3l-3.2,-3.3z"/><path d="M209.7,288.8l3.2,3.3l-3.2,3.3l-3.2,-3.3z"/><path d="M210.8,295.4l3.2,3.3l-3.2,3.3l-3.2,-3.3z"/><path d="M213.0,289.7l3.2,3.3l-3.2,3.3l-3.2,-3.3z"/><path d="M214.1,283.5l3.2,3.3l-3.2,3.3l-3.2,-3.3z"/><path d="M215.0,281.7l3.2,3.3l-3.2,3.3l-3.2,-3.3z"/><path d="M217.0,282.7l3.2,3.3l-3.2,3.3l-3.2,-3.3z"/><path d="M218.3,286.7l3.2,3.3l-3.2,3.3l-3.2,-3.3z"/><path d="M220.0,289.2l3.2,3.3l-3.2,3.3l-3.2,-3.3z"/><path d="M221.4,295.1l3.2,3.3l-3.2,3.3l-3.2,-3.3z"/><path d="M222.5,301.7l3.2,3.3l-3.2,3.3l-3.2,-3.3z"/><path d="M224.3,298.2l3.2,3.3l-3.2,3.3l-3.2,-3.3z"/><path d="M226.0,291.7l3.2,3.3l-3.2,3.3l-3.2,-3.3z"/><path d="M227.2,290.4l3.2,3.3l-3.2,3.3l-3.2,-3.3z"/><path d="M229.0,292.7l3.2,3.3l-3.2,3.3l-3.2,-3.3z"/><path d="M230.2,292.6l3.2,3.3l-3.2,3.3l-3.2,-3.3z"/><path d="M231.2,291.7l3.2,3.3l-3.2,3.3l-3.2,-3.3z"/><path d="M233.1,296.2l3.2,3.3l-3.2,3.3l-3.2,-3.3z"/><path d="M233.8,296.7l3.2,3.3l-3.2,3.3l-3.2,-3.3z"/><path d="M234.6,300.5l3.2,3.3l-3.2,3.3l-3.2,-3.3z"/><path d="M236.2,310.4l3.2,3.3l-3.2,3.3l-3.2,-3.3z"/><path d="M237.5,309.5l3.2,3.3l-3.2,3.3l-3.2,-3.3z"/><path d="M239.0,305.4l3.2,3.3l-3.2,3.3l-3.2,-3.3z"/><path d="M240.0,306.7l3.2,3.3l-3.2,3.3l-3.2,-3.3z"/><path d="M241.9,306.8l3.2,3.3l-3.2,3.3l-3.2,-3.3z"/><path d="M243.8,311.7l3.2,3.3l-3.2,3.3l-3.2,-3.3z"/><path d="M244.8,309.4l3.2,3.3l-3.2,3.3l-3.2,-3.3z"/><path d="M246.3,311.1l3.2,3.3l-3.2,3.3l-3.2,-3.3z"/><path d="M247.7,308.8l3.2,3.3l-3.2,3.3l-3.2,-3.3z"/><path d="M249.2,307.2l3.2,3.3l-3.2,3.3l-3.2,-3.3z"/><path d="M250.0,307.7l3.2,3.3l-3.2,3.3l-3.2,-3.3z"/><path d="M250.7,308.7l3.2,3.3l-3.2,3.3l-3.2,-3.3z"/><path d="M252.1,309.2l3.2,3.3l-3.2,3.3l-3.2,-3.3z"/><path d="M253.6,309.5l3.2,3.3l-3.2,3.3l-3.2,-3.3z"/><path d="M255.0,311.7l3.2,3.3l-3.2,3.3l-3.2,-3.3z"/><path d="M256.5,312.3l3.2,3.3l-3.2,3.3l-3.2,-3.3z"/><path d="M258.0,310.8l3.2,3.3l-3.2,3.3l-3.2,-3.3z"/><path d="M259.5,307.4l3.2,3.3l-3.2,3.3l-3.2,-3.3z"/><path d="M261.0,307.7l3.2,3.3l-3.2,3.3l-3.2,-3.3z"/><path d="M262.4,307.6l3.2,3.3l-3.2,3.3l-3.2,-3.3z"/><path d="M263.8,306.9l3.2,3.3l-3.2,3.3l-3.2,-3.3z"/><path d="M265.3,308.2l3.2,3.3l-3.2,3.3l-3.2,-3.3z"/><path d="M266.8,306.9l3.2,3.3l-3.2,3.3l-3.2,-3.3z"/><path d="M267.5,305.4l3.2,3.3l-3.2,3.3l-3.2,-3.3z"/><path d="M268.2,304.7l3.2,3.3l-3.2,3.3l-3.2,-3.3z"/><path d="M269.7,309.4l3.2,3.3l-3.2,3.3l-3.2,-3.3z"/><path d="M271.2,305.6l3.2,3.3l-3.2,3.3l-3.2,-3.3z"/><path d="M272.6,308.1l3.2,3.3l-3.2,3.3l-3.2,-3.3z"/><path d="M273.8,309.2l3.2,3.3l-3.2,3.3l-3.2,-3.3z"/><path d="M275.0,311.7l3.2,3.3l-3.2,3.3l-3.2,-3.3z"/><path d="M277.0,309.0l3.2,3.3l-3.2,3.3l-3.2,-3.3z"/><path d="M278.8,304.2l3.2,3.3l-3.2,3.3l-3.2,-3.3z"/><path d="M280.0,311.7l3.2,3.3l-3.2,3.3l-3.2,-3.3z"/><path d="M281.4,302.8l3.2,3.3l-3.2,3.3l-3.2,-3.3z"/><path d="M282.5,299.2l3.2,3.3l-3.2,3.3l-3.2,-3.3z"/><path d="M284.3,297.2l3.2,3.3l-3.2,3.3l-3.2,-3.3z"/><path d="M286.0,295.4l3.2,3.3l-3.2,3.3l-3.2,-3.3z"/><path d="M287.3,291.0l3.2,3.3l-3.2,3.3l-3.2,-3.3z"/><path d="M288.7,292.1l3.2,3.3l-3.2,3.3l-3.2,-3.3z"/><path d="M290.0,289.2l3.2,3.3l-3.2,3.3l-3.2,-3.3z"/><path d="M291.7,295.6l3.2,3.3l-3.2,3.3l-3.2,-3.3z"/><path d="M292.5,296.7l3.2,3.3l-3.2,3.3l-3.2,-3.3z"/><path d="M293.1,294.8l3.2,3.3l-3.2,3.3l-3.2,-3.3z"/><path d="M295.0,287.7l3.2,3.3l-3.2,3.3l-3.2,-3.3z"/><path d="M296.1,289.4l3.2,3.3l-3.2,3.3l-3.2,-3.3z"/><path d="M297.5,286.0l3.2,3.3l-3.2,3.3l-3.2,-3.3z"/><path d="M298.8,286.7l3.2,3.3l-3.2,3.3l-3.2,-3.3z"/><path d="M301.0,289.2l3.2,3.3l-3.2,3.3l-3.2,-3.3z"/><path d="M301.9,287.4l3.2,3.3l-3.2,3.3l-3.2,-3.3z"/><path d="M303.8,280.4l3.2,3.3l-3.2,3.3l-3.2,-3.3z"/><path d="M304.8,282.0l3.2,3.3l-3.2,3.3l-3.2,-3.3z"/><path d="M306.0,282.7l3.2,3.3l-3.2,3.3l-3.2,-3.3z"/><path d="M307.8,288.1l3.2,3.3l-3.2,3.3l-3.2,-3.3z"/><path d="M308.8,290.4l3.2,3.3l-3.2,3.3l-3.2,-3.3z"/><path d="M311.0,301.7l3.2,3.3l-3.2,3.3l-3.2,-3.3z"/><path d="M312.2,302.9l3.2,3.3l-3.2,3.3l-3.2,-3.3z"/><path d="M313.6,306.8l3.2,3.3l-3.2,3.3l-3.2,-3.3z"/><path d="M315.0,306.7l3.2,3.3l-3.2,3.3l-3.2,-3.3z"/><path d="M316.5,307.0l3.2,3.3l-3.2,3.3l-3.2,-3.3z"/><path d="M318.0,302.5l3.2,3.3l-3.2,3.3l-3.2,-3.3z"/><path d="M318.8,301.7l3.2,3.3l-3.2,3.3l-3.2,-3.3z"/><path d="M319.5,301.7l3.2,3.3l-3.2,3.3l-3.2,-3.3z"/><path d="M320.9,296.6l3.2,3.3l-3.2,3.3l-3.2,-3.3z"/><path d="M322.4,298.2l3.2,3.3l-3.2,3.3l-3.2,-3.3z"/><path d="M323.8,295.4l3.2,3.3l-3.2,3.3l-3.2,-3.3z"/><path d="M325.3,298.4l3.2,3.3l-3.2,3.3l-3.2,-3.3z"/><path d="M326.8,302.2l3.2,3.3l-3.2,3.3l-3.2,-3.3z"/><path d="M327.5,300.4l3.2,3.3l-3.2,3.3l-3.2,-3.3z"/><path d="M328.3,302.5l3.2,3.3l-3.2,3.3l-3.2,-3.3z"/><path d="M329.7,300.3l3.2,3.3l-3.2,3.3l-3.2,-3.3z"/><path d="M331.2,301.5l3.2,3.3l-3.2,3.3l-3.2,-3.3z"/><path d="M332.5,302.7l3.2,3.3l-3.2,3.3l-3.2,-3.3z"/><path d="M334.1,302.9l3.2,3.3l-3.2,3.3l-3.2,-3.3z"/><path d="M335.6,298.7l3.2,3.3l-3.2,3.3l-3.2,-3.3z"/><path d="M337.5,300.4l3.2,3.3l-3.2,3.3l-3.2,-3.3z"/><path d="M338.5,301.8l3.2,3.3l-3.2,3.3l-3.2,-3.3z"/><path d="M340.0,304.2l3.2,3.3l-3.2,3.3l-3.2,-3.3z"/><path d="M341.0,315.4l3.2,3.3l-3.2,3.3l-3.2,-3.3z"/><path d="M342.9,314.3l3.2,3.3l-3.2,3.3l-3.2,-3.3z"/><path d="M344.4,314.4l3.2,3.3l-3.2,3.3l-3.2,-3.3z"/><path d="M345.0,316.7l3.2,3.3l-3.2,3.3l-3.2,-3.3z"/><path d="M345.8,313.5l3.2,3.3l-3.2,3.3l-3.2,-3.3z"/><path d="M347.5,314.2l3.2,3.3l-3.2,3.3l-3.2,-3.3z"/><path d="M348.8,301.8l3.2,3.3l-3.2,3.3l-3.2,-3.3z"/><path d="M350.0,286.7l3.2,3.3l-3.2,3.3l-3.2,-3.3z"/><path d="M351.7,283.9l3.2,3.3l-3.2,3.3l-3.2,-3.3z"/><path d="M352.5,285.4l3.2,3.3l-3.2,3.3l-3.2,-3.3z"/><path d="M353.1,286.0l3.2,3.3l-3.2,3.3l-3.2,-3.3z"/><path d="M355.0,292.7l3.2,3.3l-3.2,3.3l-3.2,-3.3z"/><path d="M356.1,293.3l3.2,3.3l-3.2,3.3l-3.2,-3.3z"/><path d="M357.5,297.4l3.2,3.3l-3.2,3.3l-3.2,-3.3z"/><path d="M358.8,296.7l3.2,3.3l-3.2,3.3l-3.2,-3.3z"/><path d="M361.0,302.7l3.2,3.3l-3.2,3.3l-3.2,-3.3z"/><path d="M361.9,302.6l3.2,3.3l-3.2,3.3l-3.2,-3.3z"/><path d="M363.8,309.2l3.2,3.3l-3.2,3.3l-3.2,-3.3z"/><path d="M364.9,305.2l3.2,3.3l-3.2,3.3l-3.2,-3.3z"/><path d="M366.0,301.7l3.2,3.3l-3.2,3.3l-3.2,-3.3z"/><path d="M367.8,302.0l3.2,3.3l-3.2,3.3l-3.2,-3.3z"/><path d="M369.3,303.8l3.2,3.3l-3.2,3.3l-3.2,-3.3z"/><path d="M370.0,301.7l3.2,3.3l-3.2,3.3l-3.2,-3.3z"/><path d="M370.7,302.5l3.2,3.3l-3.2,3.3l-3.2,-3.3z"/><path d="M372.2,300.8l3.2,3.3l-3.2,3.3l-3.2,-3.3z"/><path d="M373.8,296.7l3.2,3.3l-3.2,3.3l-3.2,-3.3z"/><path d="M375.1,290.1l3.2,3.3l-3.2,3.3l-3.2,-3.3z"/><path d="M376.0,287.7l3.2,3.3l-3.2,3.3l-3.2,-3.3z"/><path d="M378.0,288.0l3.2,3.3l-3.2,3.3l-3.2,-3.3z"/><path d="M380.0,289.2l3.2,3.3l-3.2,3.3l-3.2,-3.3z"/><path d="M381.0,282.7l3.2,3.3l-3.2,3.3l-3.2,-3.3z"/><path d="M382.5,274.2l3.2,3.3l-3.2,3.3l-3.2,-3.3z"/><path d="M383.9,275.7l3.2,3.3l-3.2,3.3l-3.2,-3.3z"/><path d="M385.4,275.4l3.2,3.3l-3.2,3.3l-3.2,-3.3z"/><path d="M386.0,272.7l3.2,3.3l-3.2,3.3l-3.2,-3.3z"/><path d="M386.8,268.3l3.2,3.3l-3.2,3.3l-3.2,-3.3z"/><path d="M388.3,263.9l3.2,3.3l-3.2,3.3l-3.2,-3.3z"/><path d="M390.0,260.3l3.2,3.3l-3.2,3.3l-3.2,-3.3z"/><path d="M391.2,254.6l3.2,3.3l-3.2,3.3l-3.2,-3.3z"/><path d="M393.0,249.7l3.2,3.3l-3.2,3.3l-3.2,-3.3z"/><path d="M394.1,247.5l3.2,3.3l-3.2,3.3l-3.2,-3.3z"/><path d="M395.6,247.9l3.2,3.3l-3.2,3.3l-3.2,-3.3z"/><path d="M397.6,246.7l3.2,3.3l-3.2,3.3l-3.2,-3.3z"/><path d="M398.5,254.0l3.2,3.3l-3.2,3.3l-3.2,-3.3z"/><path d="M400.0,263.0l3.2,3.3l-3.2,3.3l-3.2,-3.3z"/><path d="M400.7,269.5l3.2,3.3l-3.2,3.3l-3.2,-3.3z"/><path d="M401.5,265.3l3.2,3.3l-3.2,3.3l-3.2,-3.3z"/><path d="M402.9,264.6l3.2,3.3l-3.2,3.3l-3.2,-3.3z"/><path d="M403.8,263.4l3.2,3.3l-3.2,3.3l-3.2,-3.3z"/><path d="M404.4,263.3l3.2,3.3l-3.2,3.3l-3.2,-3.3z"/><path d="M405.9,265.8l3.2,3.3l-3.2,3.3l-3.2,-3.3z"/><path d="M406.8,266.4l3.2,3.3l-3.2,3.3l-3.2,-3.3z"/><path d="M408.8,259.1l3.2,3.3l-3.2,3.3l-3.2,-3.3z"/><path d="M409.9,251.1l3.2,3.3l-3.2,3.3l-3.2,-3.3z"/><path d="M412.0,263.4l3.2,3.3l-3.2,3.3l-3.2,-3.3z"/><path d="M413.2,251.0l3.2,3.3l-3.2,3.3l-3.2,-3.3z"/><path d="M414.4,235.9l3.2,3.3l-3.2,3.3l-3.2,-3.3z"/><path d="M416.1,229.3l3.2,3.3l-3.2,3.3l-3.2,-3.3z"/><path d="M417.5,223.7l3.2,3.3l-3.2,3.3l-3.2,-3.3z"/><path d="M419.6,199.2l3.2,3.3l-3.2,3.3l-3.2,-3.3z"/><path d="M420.6,173.2l3.2,3.3l-3.2,3.3l-3.2,-3.3z"/><path d="M422.0,170.7l3.2,3.3l-3.2,3.3l-3.2,-3.3z"/><path d="M423.4,167.7l3.2,3.3l-3.2,3.3l-3.2,-3.3z"/><path d="M424.2,165.0l3.2,3.3l-3.2,3.3l-3.2,-3.3z"/><path d="M424.9,168.6l3.2,3.3l-3.2,3.3l-3.2,-3.3z"/><path d="M426.7,187.0l3.2,3.3l-3.2,3.3l-3.2,-3.3z"/><path d="M427.6,206.7l3.2,3.3l-3.2,3.3l-3.2,-3.3z"/><path d="M429.0,225.2l3.2,3.3l-3.2,3.3l-3.2,-3.3z"/><path d="M430.6,243.5l3.2,3.3l-3.2,3.3l-3.2,-3.3z"/><path d="M432.2,247.7l3.2,3.3l-3.2,3.3l-3.2,-3.3z"/><path d="M433.7,248.8l3.2,3.3l-3.2,3.3l-3.2,-3.3z"/><path d="M434.3,248.1l3.2,3.3l-3.2,3.3l-3.2,-3.3z"/><path d="M435.1,255.0l3.2,3.3l-3.2,3.3l-3.2,-3.3z"/><path d="M436.4,260.3l3.2,3.3l-3.2,3.3l-3.2,-3.3z"/><path d="M438.1,271.1l3.2,3.3l-3.2,3.3l-3.2,-3.3z"/><path d="M438.9,274.1l3.2,3.3l-3.2,3.3l-3.2,-3.3z"/><path d="M439.5,272.0l3.2,3.3l-3.2,3.3l-3.2,-3.3z"/><path d="M441.0,268.4l3.2,3.3l-3.2,3.3l-3.2,-3.3z"/><path d="M442.0,266.4l3.2,3.3l-3.2,3.3l-3.2,-3.3z"/><path d="M443.5,248.1l3.2,3.3l-3.2,3.3l-3.2,-3.3z"/><path d="M445.6,233.9l3.2,3.3l-3.2,3.3l-3.2,-3.3z"/><path d="M446.8,243.6l3.2,3.3l-3.2,3.3l-3.2,-3.3z"/><path d="M448.0,256.7l3.2,3.3l-3.2,3.3l-3.2,-3.3z"/><path d="M449.6,265.4l3.2,3.3l-3.2,3.3l-3.2,-3.3z"/><path d="M451.2,266.2l3.2,3.3l-3.2,3.3l-3.2,-3.3z"/><path d="M452.5,265.4l3.2,3.3l-3.2,3.3l-3.2,-3.3z"/><path d="M454.2,262.3l3.2,3.3l-3.2,3.3l-3.2,-3.3z"/><path d="M455.4,264.0l3.2,3.3l-3.2,3.3l-3.2,-3.3z"/><path d="M456.9,280.0l3.2,3.3l-3.2,3.3l-3.2,-3.3z"/><path d="M458.6,281.0l3.2,3.3l-3.2,3.3l-3.2,-3.3z"/><path d="M459.8,285.9l3.2,3.3l-3.2,3.3l-3.2,-3.3z"/><path d="M461.5,291.9l3.2,3.3l-3.2,3.3l-3.2,-3.3z"/><path d="M462.7,299.0l3.2,3.3l-3.2,3.3l-3.2,-3.3z"/><path d="M464.4,292.0l3.2,3.3l-3.2,3.3l-3.2,-3.3z"/><path d="M465.6,290.2l3.2,3.3l-3.2,3.3l-3.2,-3.3z"/><path d="M467.3,295.5l3.2,3.3l-3.2,3.3l-3.2,-3.3z"/><path d="M468.5,300.4l3.2,3.3l-3.2,3.3l-3.2,-3.3z"/><path d="M470.3,295.1l3.2,3.3l-3.2,3.3l-3.2,-3.3z"/><path d="M471.7,292.4l3.2,3.3l-3.2,3.3l-3.2,-3.3z"/><path d="M472.9,293.2l3.2,3.3l-3.2,3.3l-3.2,-3.3z"/><path d="M474.7,290.7l3.2,3.3l-3.2,3.3l-3.2,-3.3z"/><path d="M476.1,289.9l3.2,3.3l-3.2,3.3l-3.2,-3.3z"/><path d="M477.3,291.7l3.2,3.3l-3.2,3.3l-3.2,-3.3z"/><path d="M479.1,293.3l3.2,3.3l-3.2,3.3l-3.2,-3.3z"/><path d="M480.5,293.4l3.2,3.3l-3.2,3.3l-3.2,-3.3z"/><path d="M481.7,297.5l3.2,3.3l-3.2,3.3l-3.2,-3.3z"/><path d="M483.4,297.8l3.2,3.3l-3.2,3.3l-3.2,-3.3z"/><path d="M484.9,294.9l3.2,3.3l-3.2,3.3l-3.2,-3.3z"/><path d="M486.0,293.2l3.2,3.3l-3.2,3.3l-3.2,-3.3z"/><path d="M487.8,295.7l3.2,3.3l-3.2,3.3l-3.2,-3.3z"/><path d="M489.0,300.4l3.2,3.3l-3.2,3.3l-3.2,-3.3z"/><path d="M490.8,293.6l3.2,3.3l-3.2,3.3l-3.2,-3.3z"/><path d="M492.8,288.7l3.2,3.3l-3.2,3.3l-3.2,-3.3z"/><path d="M493.7,292.6l3.2,3.3l-3.2,3.3l-3.2,-3.3z"/><path d="M494.8,299.0l3.2,3.3l-3.2,3.3l-3.2,-3.3z"/><path d="M496.6,294.6l3.2,3.3l-3.2,3.3l-3.2,-3.3z"/><path d="M497.7,293.2l3.2,3.3l-3.2,3.3l-3.2,-3.3z"/><path d="M498.6,275.7l3.2,3.3l-3.2,3.3l-3.2,-3.3z"/><path d="M499.8,234.7l3.2,3.3l-3.2,3.3l-3.2,-3.3z"/><path d="M501.0,231.0l3.2,3.3l-3.2,3.3l-3.2,-3.3z"/><path d="M502.4,231.3l3.2,3.3l-3.2,3.3l-3.2,-3.3z"/><path d="M503.9,207.6l3.2,3.3l-3.2,3.3l-3.2,-3.3z"/><path d="M504.6,194.7l3.2,3.3l-3.2,3.3l-3.2,-3.3z"/><path d="M505.4,198.9l3.2,3.3l-3.2,3.3l-3.2,-3.3z"/><path d="M507.0,199.2l3.2,3.3l-3.2,3.3l-3.2,-3.3z"/><path d="M507.6,228.2l3.2,3.3l-3.2,3.3l-3.2,-3.3z"/><path d="M508.3,232.7l3.2,3.3l-3.2,3.3l-3.2,-3.3z"/><path d="M509.8,242.2l3.2,3.3l-3.2,3.3l-3.2,-3.3z"/><path d="M510.7,248.1l3.2,3.3l-3.2,3.3l-3.2,-3.3z"/><path d="M512.7,245.9l3.2,3.3l-3.2,3.3l-3.2,-3.3z"/><path d="M513.8,248.1l3.2,3.3l-3.2,3.3l-3.2,-3.3z"/><path d="M513.8,216.0l3.2,3.3l-3.2,3.3l-3.2,-3.3z"/><path d="M515.3,199.2l3.2,3.3l-3.2,3.3l-3.2,-3.3z"/><path d="M517.1,192.5l3.2,3.3l-3.2,3.3l-3.2,-3.3z"/><path d="M518.3,191.6l3.2,3.3l-3.2,3.3l-3.2,-3.3z"/><path d="M519.9,205.3l3.2,3.3l-3.2,3.3l-3.2,-3.3z"/><path d="M521.4,182.4l3.2,3.3l-3.2,3.3l-3.2,-3.3z"/><path d="M522.9,194.6l3.2,3.3l-3.2,3.3l-3.2,-3.3z"/><path d="M524.4,176.3l3.2,3.3l-3.2,3.3l-3.2,-3.3z"/><path d="M525.9,178.2l3.2,3.3l-3.2,3.3l-3.2,-3.3z"/><path d="M526.9,180.9l3.2,3.3l-3.2,3.3l-3.2,-3.3z"/><path d="M529.0,165.6l3.2,3.3l-3.2,3.3l-3.2,-3.3z"/><path d="M530.3,157.2l3.2,3.3l-3.2,3.3l-3.2,-3.3z"/><path d="M531.2,153.4l3.2,3.3l-3.2,3.3l-3.2,-3.3z"/><path d="M533.6,161.0l3.2,3.3l-3.2,3.3l-3.2,-3.3z"/><path d="M534.7,157.2l3.2,3.3l-3.2,3.3l-3.2,-3.3z"/><path d="M536.0,148.7l3.2,3.3l-3.2,3.3l-3.2,-3.3z"/><path d="M538.2,139.6l3.2,3.3l-3.2,3.3l-3.2,-3.3z"/><path d="M539.1,142.2l3.2,3.3l-3.2,3.3l-3.2,-3.3z"/><path d="M539.7,147.2l3.2,3.3l-3.2,3.3l-3.2,-3.3z"/><path d="M540.5,149.6l3.2,3.3l-3.2,3.3l-3.2,-3.3z"/><path d="M541.2,156.4l3.2,3.3l-3.2,3.3l-3.2,-3.3z"/><path d="M542.0,166.3l3.2,3.3l-3.2,3.3l-3.2,-3.3z"/><path d="M542.8,171.7l3.2,3.3l-3.2,3.3l-3.2,-3.3z"/><path d="M543.5,173.0l3.2,3.3l-3.2,3.3l-3.2,-3.3z"/><path d="M544.5,174.7l3.2,3.3l-3.2,3.3l-3.2,-3.3z"/><path d="M546.4,153.4l3.2,3.3l-3.2,3.3l-3.2,-3.3z"/><path d="M547.4,176.3l3.2,3.3l-3.2,3.3l-3.2,-3.3z"/><path d="M549.3,177.3l3.2,3.3l-3.2,3.3l-3.2,-3.3z"/><path d="M550.4,180.9l3.2,3.3l-3.2,3.3l-3.2,-3.3z"/><path d="M552.0,196.1l3.2,3.3l-3.2,3.3l-3.2,-3.3z"/><path d="M553.5,214.5l3.2,3.3l-3.2,3.3l-3.2,-3.3z"/><path d="M555.6,225.2l3.2,3.3l-3.2,3.3l-3.2,-3.3z"/><path d="M556.6,236.0l3.2,3.3l-3.2,3.3l-3.2,-3.3z"/><path d="M557.4,243.5l3.2,3.3l-3.2,3.3l-3.2,-3.3z"/><path d="M558.1,241.4l3.2,3.3l-3.2,3.3l-3.2,-3.3z"/><path d="M559.6,245.0l3.2,3.3l-3.2,3.3l-3.2,-3.3z"/><path d="M561.0,259.8l3.2,3.3l-3.2,3.3l-3.2,-3.3z"/><path d="M561.7,266.4l3.2,3.3l-3.2,3.3l-3.2,-3.3z"/><path d="M562.5,272.4l3.2,3.3l-3.2,3.3l-3.2,-3.3z"/><path d="M564.2,277.1l3.2,3.3l-3.2,3.3l-3.2,-3.3z"/><path d="M565.4,272.1l3.2,3.3l-3.2,3.3l-3.2,-3.3z"/><path d="M566.6,263.4l3.2,3.3l-3.2,3.3l-3.2,-3.3z"/><path d="M568.4,257.5l3.2,3.3l-3.2,3.3l-3.2,-3.3z"/><path d="M570.3,248.7l3.2,3.3l-3.2,3.3l-3.2,-3.3z"/><path d="M571.8,260.3l3.2,3.3l-3.2,3.3l-3.2,-3.3z"/><path d="M572.7,263.2l3.2,3.3l-3.2,3.3l-3.2,-3.3z"/><path d="M574.2,270.3l3.2,3.3l-3.2,3.3l-3.2,-3.3z"/><path d="M574.9,274.1l3.2,3.3l-3.2,3.3l-3.2,-3.3z"/><path d="M575.7,269.9l3.2,3.3l-3.2,3.3l-3.2,-3.3z"/><path d="M577.1,268.7l3.2,3.3l-3.2,3.3l-3.2,-3.3z"/><path d="M577.9,264.9l3.2,3.3l-3.2,3.3l-3.2,-3.3z"/><path d="M578.6,268.7l3.2,3.3l-3.2,3.3l-3.2,-3.3z"/><path d="M580.0,275.6l3.2,3.3l-3.2,3.3l-3.2,-3.3z"/><path d="M581.5,269.6l3.2,3.3l-3.2,3.3l-3.2,-3.3z"/><path d="M582.5,263.4l3.2,3.3l-3.2,3.3l-3.2,-3.3z"/><path d="M584.5,254.7l3.2,3.3l-3.2,3.3l-3.2,-3.3z"/><path d="M585.6,251.1l3.2,3.3l-3.2,3.3l-3.2,-3.3z"/><path d="M587.4,246.0l3.2,3.3l-3.2,3.3l-3.2,-3.3z"/><path d="M588.6,245.0l3.2,3.3l-3.2,3.3l-3.2,-3.3z"/><path d="M590.3,239.0l3.2,3.3l-3.2,3.3l-3.2,-3.3z"/><path d="M591.0,234.3l3.2,3.3l-3.2,3.3l-3.2,-3.3z"/><path d="M591.8,228.3l3.2,3.3l-3.2,3.3l-3.2,-3.3z"/><path d="M593.2,209.9l3.2,3.3l-3.2,3.3l-3.2,-3.3z"/><path d="M594.7,214.1l3.2,3.3l-3.2,3.3l-3.2,-3.3z"/><path d="M596.2,214.5l3.2,3.3l-3.2,3.3l-3.2,-3.3z"/></g>
</svg>
<h1>Mechanical System Effect</h1>
<div id="notes">
<div>It is well understood that HVAC systems affect radon entry by providing dilution ventilation or influencing the pressure differential across the building</div>
<div>envelope. Most often, it is assumed that HVAC systems reduce indoor radon concentrations. In this slide, the usual assumption is wrong.</div>
<div>This day care center, in a public school, contained a nursery where about 6 children less than 1 year of age slept. Note that the weekend, unoccupied</div>
<div>period had lower radon concentrations than the occupied period. The weekday peaks occurred on most days at around noontime. I believe that</div>
<div>the operation of kitchen rangetop ventilators in an adjacent wing are likely suspects in this mystery.</div>
<div>Courtesy of Environmental Protection Agency, USA</div>
</div>
</body></html>
